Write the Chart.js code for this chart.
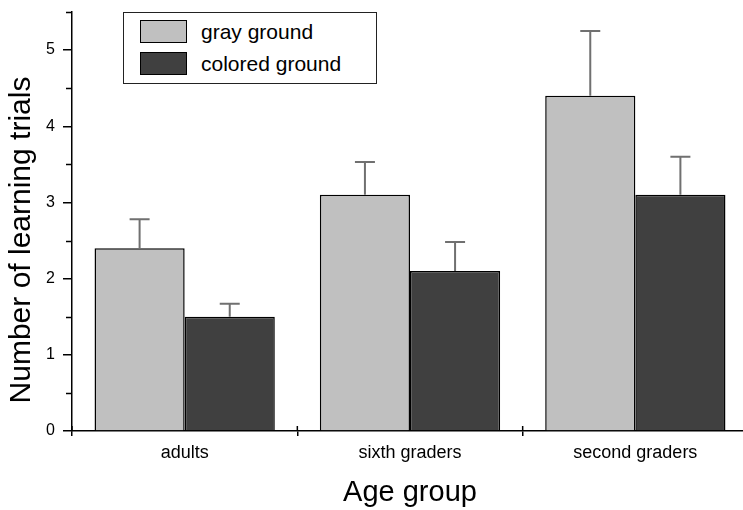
<!DOCTYPE html>
<html>
<head>
<meta charset="utf-8">
<script src="https://cdn.jsdelivr.net/npm/chart.js@4"></script>
<style>
  body { margin: 0; overflow: hidden; background: #fff; font-family: "Liberation Sans", Arial, sans-serif; }
  #wrap { position: relative; width: 743px; height: 510px; overflow: hidden; }
  #ytitle {
    position: absolute; left: -180px; top: 222px; width: 400px; height: 36px;
    line-height: 36px; text-align: center; font-size: 30px; color: #000;
    transform: rotate(-90deg);
  }
  #legend {
    position: absolute; left: 123px; top: 12px; width: 252px; height: 70px;
    border: 1px solid #222; background: #fff;
  }
  .item { position: absolute; left: 16px; height: 23px; display: flex; align-items: center; }
  .sw { width: 45px; height: 21px; border: 1px solid #000; margin-right: 14px; }
  .item span { font-size: 21px; color: #000; }
</style>
</head>
<body>
<div id="wrap">
  <canvas id="chart" width="748" height="510"></canvas>
  <div id="ytitle">Number of learning trials</div>
  <div id="legend">
    <div class="item" style="top:7px"><div class="sw" style="background:#c0c0c0"></div><span>gray ground</span></div>
    <div class="item" style="top:39px"><div class="sw" style="background:#404040"></div><span>colored ground</span></div>
  </div>
</div>
<script>
const categories = ['adults', 'sixth graders', 'second graders'];
const grayGround = [2.4, 3.1, 4.4];
const coloredGround = [1.5, 2.1, 3.1];
const grayErr = [0.38, 0.43, 0.85];
const coloredErr = [0.17, 0.38, 0.5];

// error bars (up only) + extra tick marks
const extras = {
  id: 'extras',
  afterDatasetsDraw(chart) {
    const ctx = chart.ctx;
    const y = chart.scales.y;
    const errs = [grayErr, coloredErr];
    ctx.save();
    ctx.strokeStyle = '#707070';
    ctx.lineWidth = 2;
    chart.data.datasets.forEach((ds, i) => {
      chart.getDatasetMeta(i).data.forEach((bar, j) => {
        const top = y.getPixelForValue(ds.data[j] + errs[i][j]);
        ctx.beginPath();
        ctx.moveTo(bar.x, bar.y);
        ctx.lineTo(bar.x, top);
        ctx.moveTo(bar.x - 10, top);
        ctx.lineTo(bar.x + 10, top);
        ctx.stroke();
      });
    });
    ctx.restore();
  },
  afterDraw(chart) {
    const ctx = chart.ctx;
    const x = chart.scales.x, y = chart.scales.y;
    ctx.save();
    ctx.strokeStyle = '#000';
    ctx.lineWidth = 1.5;
    // minor y ticks
    y.ticks.forEach(t => {
      if (t.value % 1 !== 0) {
        const py = Math.round(y.getPixelForValue(t.value)) + 0.5;
        ctx.beginPath();
        ctx.moveTo(x.left - 6, py);
        ctx.lineTo(x.left, py);
        ctx.stroke();
      }
    });
    // inward part of x ticks
    for (let i = -0.5; i < categories.length; i++) {
      const px = x.getPixelForValue(i);
      ctx.beginPath();
      ctx.moveTo(px, y.bottom);
      ctx.lineTo(px, y.bottom - 5);
      ctx.stroke();
    }
    ctx.restore();
  }
};

new Chart(document.getElementById('chart'), {
  type: 'bar',
  data: {
    labels: categories,
    datasets: [
      { label: 'gray ground', data: grayGround, backgroundColor: '#c0c0c0', borderColor: '#000', borderWidth: 1.5 },
      { label: 'colored ground', data: coloredGround, backgroundColor: '#404040', borderColor: '#000', borderWidth: 1.5 }
    ]
  },
  options: {
    responsive: false,
    animation: false,
    devicePixelRatio: 1,
    layout: { padding: { top: 12, left: 0, right: 0, bottom: 0 } },
    datasets: { bar: { barPercentage: 1, categoryPercentage: 0.8 } },
    plugins: { legend: { display: false }, tooltip: { enabled: false } },
    scales: {
      x: {
        afterFit(s) { s.height = 79; },
        grid: { display: true, drawOnChartArea: false, offset: true, tickLength: 5, color: '#000', lineWidth: 1.5 },
        border: { color: '#000', width: 1.5 },
        ticks: { color: '#000', padding: 6, font: { family: 'Liberation Sans', size: 18 } },
        title: { display: true, text: 'Age group', color: '#000', padding: { top: 0, bottom: 0 },
                 font: { family: 'Liberation Sans', size: 29 } }
      },
      y: {
        min: 0, max: 5.5,
        afterFit(s) { s.width = 72; s.paddingTop = 0; s.paddingBottom = 0; },
        grid: { display: true, drawOnChartArea: false, tickLength: 9, lineWidth: 1.5,
                tickColor: c => (c.tick && c.tick.value % 1 === 0) ? '#000' : 'rgba(0,0,0,0)' },
        border: { color: '#000', width: 1.5 },
        ticks: { stepSize: 0.5, padding: 8, color: '#000', font: { family: 'Liberation Sans', size: 16 },
                 callback: v => (v % 1 === 0 ? v : '') }
      }
    }
  },
  plugins: [extras]
});
</script>
</body>
</html>
